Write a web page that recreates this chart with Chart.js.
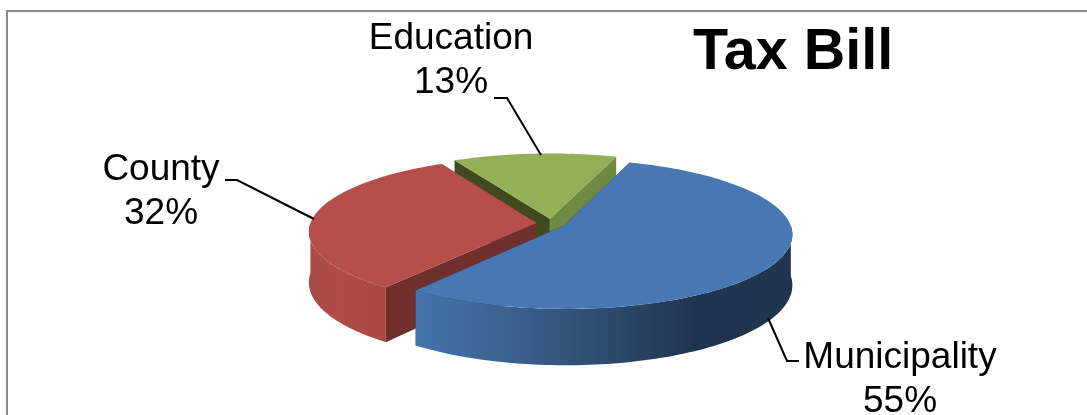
<!DOCTYPE html>
<html>
<head>
<meta charset="utf-8">
<title>Tax Bill</title>
<script src="https://cdn.jsdelivr.net/npm/chart.js@4/dist/chart.umd.min.js"></script>
<style>
  html, body { margin: 0; padding: 0; background: #fff; overflow: hidden; }
  #wrap { position: relative; width: 1087px; height: 415px; }
  #frame { position: absolute; left: 6px; top: 10px; width: 1081px; height: 405px;
           border-left: 2px solid #8a8a8a; border-top: 2px solid #8a8a8a; box-sizing: border-box; }
  canvas { position: absolute; left: 0; top: 0; }
</style>
</head>
<body>
<div id="wrap">
  <div id="frame"></div>
  <canvas id="taxChart" width="1087" height="415"></canvas>
</div>
<script>
var chartTitle = 'Tax Bill';
var categories = ['Municipality', 'County', 'Education'];
var shares = [55, 32, 13];

var topColors = ['#4878b4', '#b64e4a', '#94b056'];
var cutColors = [['#1f3550', '#1f3550'], ['#6e2f2d', '#6e2f2d'], ['#3f4a20', '#6f8a40']];

// x position (0..1 across the slice wall) -> wall colour
var wallStops = [
  [[0, '#4474ab'], [0.25, '#3c618f'], [0.55, '#2c4668'], [0.75, '#1e3350'], [1, '#20364f']],
  [[0, '#a94a46'], [0.4, '#b04c48'], [1, '#a84744']],
  [[0, '#6f8a40'], [1, '#6f8a40']]
];

// label text placement and the bent leader line for each slice
var labelSpots = [
  { x: 900, y: 368, line: [[768, 318], [787, 361], [799, 361]] },
  { x: 161, y: 180, line: [[225, 180], [237, 180], [314, 219]] },
  { x: 451, y: 49, line: [[494, 98], [507, 98], [541, 155]] }
];

var SQUASH = 0.325;   // how flat the disc looks
var PERSP = 0.11;     // near edge bigger than far edge
var DEPTH = 50;       // wall height
var SEGMENTS = 90;

function project(chartEl, u, v) {
  var s = 1 / (1 - PERSP * v / chartEl.outerRadius);
  return { x: chartEl.x + u * s, y: chartEl.y + v * SQUASH * s, s: s };
}

function slicePoint(el, ex, ey, angle, r) {
  return project(el, ex + Math.cos(angle) * r, ey + Math.sin(angle) * r);
}

function tracePath(ctx, pts) {
  ctx.beginPath();
  pts.forEach(function(p, i) {
    if (i == 0) ctx.moveTo(p.x, p.y); else ctx.lineTo(p.x, p.y);
  });
  ctx.closePath();
}

function drawCutWall(ctx, el, ex, ey, angle, color) {
  var a = project(el, ex, ey);
  var b = slicePoint(el, ex, ey, angle, el.outerRadius);
  tracePath(ctx, [a, b,
    { x: b.x, y: b.y + DEPTH * b.s },
    { x: a.x, y: a.y + DEPTH * a.s }]);
  ctx.fillStyle = color;
  ctx.fill();
}

function drawOuterWall(ctx, el, ex, ey, from, to, stops) {
  // only the part of the rim facing the viewer
  var start = Math.max(from, 0), end = Math.min(to, Math.PI);
  if (end <= start) return;
  var upper = [], lower = [];
  for (var i = 0; i <= SEGMENTS; i++) {
    var p = slicePoint(el, ex, ey, start + (end - start) * i / SEGMENTS, el.outerRadius);
    upper.push(p);
    lower.unshift({ x: p.x, y: p.y + DEPTH * p.s });
  }
  var xs = upper.map(function(p) { return p.x; });
  var grad = ctx.createLinearGradient(Math.min.apply(null, xs), 0, Math.max.apply(null, xs), 0);
  stops.forEach(function(s) { grad.addColorStop(s[0], s[1]); });
  tracePath(ctx, upper.concat(lower));
  ctx.fillStyle = grad;
  ctx.fill();
}

function drawTop(ctx, el, ex, ey, from, to, color) {
  var pts = [project(el, ex, ey)];
  for (var i = 0; i <= SEGMENTS; i++) {
    pts.push(slicePoint(el, ex, ey, from + (to - from) * i / SEGMENTS, el.outerRadius));
  }
  tracePath(ctx, pts);
  ctx.fillStyle = color;
  ctx.fill();
}

// Chart.js still lays out the arcs, this only paints them tilted with walls.
var tiltedPie = {
  id: 'tiltedPie',
  beforeDatasetsDraw: function(chart) {
    var ctx = chart.ctx;
    var arcs = chart.getDatasetMeta(0).data;
    // paint back to front
    [2, 1, 0].forEach(function(i) {
      var el = arcs[i];
      var from = el.startAngle, to = el.endAngle;
      var mid = (from + to) / 2;
      var off = el.options.offset / 4;
      var ex = Math.cos(mid) * off, ey = Math.sin(mid) * off;
      drawCutWall(ctx, el, ex, ey, from, cutColors[i][0]);
      drawCutWall(ctx, el, ex, ey, to, cutColors[i][1]);
      drawOuterWall(ctx, el, ex, ey, from, to, wallStops[i]);
      drawTop(ctx, el, ex, ey, from, to, topColors[i]);
    });
    return false;
  },
  afterDraw: function(chart) {
    var ctx = chart.ctx;
    ctx.save();
    ctx.strokeStyle = '#000';
    ctx.lineWidth = 2;
    labelSpots.forEach(function(spot, i) {
      ctx.beginPath();
      spot.line.forEach(function(p, j) {
        if (j == 0) ctx.moveTo(p[0], p[1]); else ctx.lineTo(p[0], p[1]);
      });
      ctx.stroke();
      ctx.fillStyle = '#000';
      ctx.textAlign = 'center';
      ctx.textBaseline = 'alphabetic';
      ctx.font = '37px "Liberation Sans", Arial, sans-serif';
      ctx.fillText(categories[i], spot.x, spot.y);
      ctx.fillText(shares[i] + '%', spot.x, spot.y + 44);
    });
    ctx.font = 'bold 57.5px "Liberation Sans", Arial, sans-serif';
    ctx.fillText(chartTitle, 793, 69);
    ctx.restore();
  }
};

new Chart(document.getElementById('taxChart').getContext('2d'), {
  type: 'pie',
  data: {
    labels: categories,
    datasets: [{
      data: shares,
      backgroundColor: topColors,
      borderWidth: 0,
      offset: 59
    }]
  },
  options: {
    responsive: false,
    animation: false,
    rotation: 19,
    radius: 226,
    layout: { padding: { left: 15, top: 32 } },
    plugins: { legend: { display: false }, tooltip: { enabled: false } }
  },
  plugins: [tiltedPie]
});
</script>
</body>
</html>
